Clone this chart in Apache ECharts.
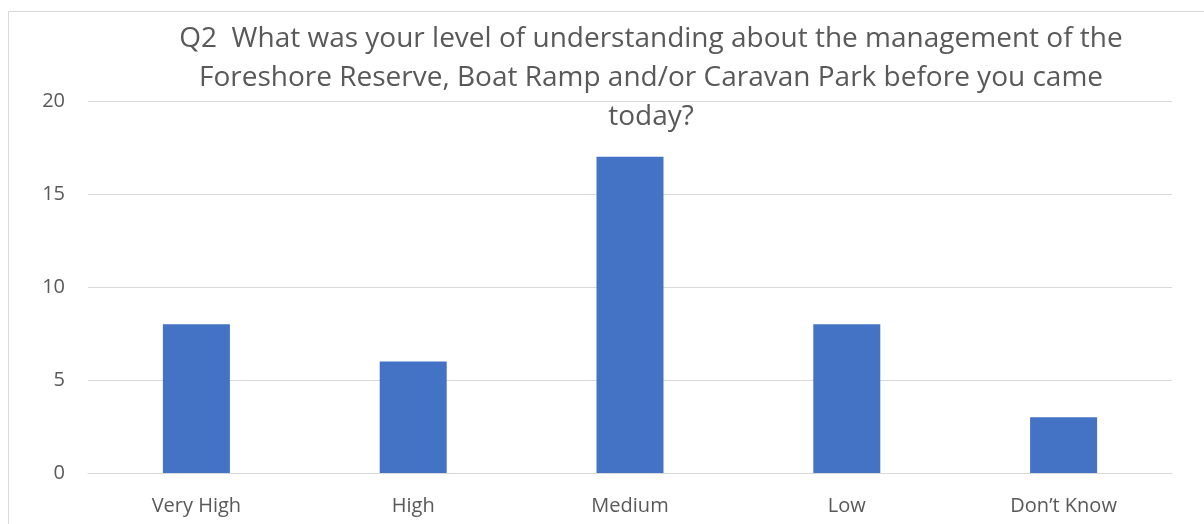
<!DOCTYPE html>
<html><head><meta charset="utf-8">
<script src="https://cdn.jsdelivr.net/npm/echarts@6/dist/echarts.min.js"></script>
<style>html,body{margin:0;padding:0;background:#fff}#c{width:1204px;height:524px}</style>
</head><body><div id="c"></div>
<script>
const categories = ['Very High', 'High', 'Medium', 'Low', 'Don\u2019t Know'];
const values = [8, 6, 17, 8, 3];
const titleLines = ['Q2  What was your level of understanding about the management of the', 'Foreshore Reserve, Boat Ramp and/or Caravan Park before you came', 'today?'];
const yTicks = {min: 0, max: 20, interval: 5};

const font = 'Open Sans';
const chart = echarts.init(document.getElementById('c'));
chart.setOption({
  animation: false,
  graphic: [{type: 'rect', shape: {x: 8.5, y: 11.5, width: 1200, height: 520}, style: {fill: 'none', stroke: '#d9d9d9', lineWidth: 1}, z: -1}],
  title: {
    text: titleLines.join('\n'), left: 646, top: 15, textAlign: 'center',
    textStyle: {fontFamily: font, fontSize: 28, fontWeight: 'normal', color: '#595959', lineHeight: 39}
  },
  grid: {left: 88, right: 32, top: 101, bottom: 51},
  xAxis: {
    type: 'category', data: categories,
    axisLine: {lineStyle: {color: '#d9d9d9'}}, axisTick: {show: false},
    axisLabel: {fontFamily: font, fontSize: 20, color: '#595959', margin: 23}
  },
  yAxis: {
    type: 'value', min: yTicks.min, max: yTicks.max, interval: yTicks.interval,
    axisLine: {show: false}, axisTick: {show: false},
    splitLine: {lineStyle: {color: '#d9d9d9'}},
    axisLabel: {fontFamily: font, fontSize: 20, color: '#595959', margin: 23}
  },
  series: [{type: 'bar', data: values, barWidth: 67, itemStyle: {color: '#4472C4'}}]
});
</script></body></html>
